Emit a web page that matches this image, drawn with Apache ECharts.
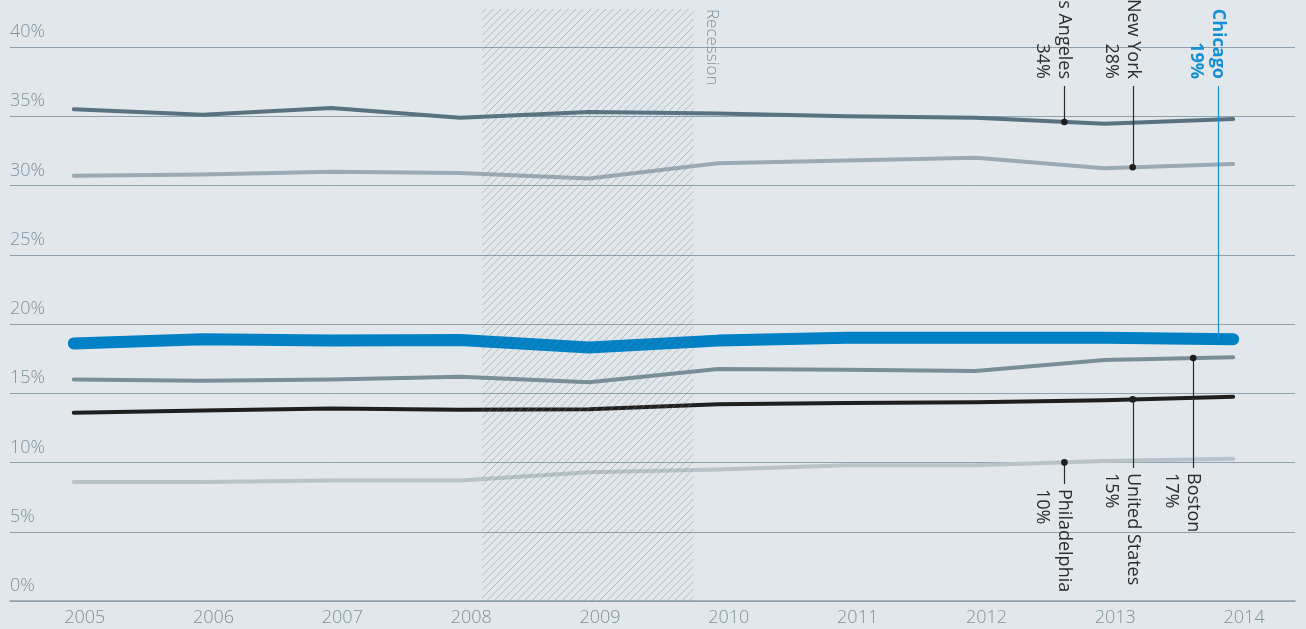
<!DOCTYPE html>
<html><head><meta charset="utf-8">
<script src="https://cdn.jsdelivr.net/npm/echarts@6/dist/echarts.min.js"></script>
<style>html,body{margin:0;padding:0;background:#e2e7eb}#c{width:1306px;height:629px}</style>
</head><body><div id="c"></div><script>
// ---- data ----
const years = [2005, 2006, 2007, 2008, 2009, 2010, 2011, 2012, 2013, 2014];
const yTickValues = [0, 5, 10, 15, 20, 25, 30, 35, 40];
const losAngeles   = [35.5, 35.1, 35.6, 34.9, 35.3, 35.2, 35.0, 34.9, 34.45, 34.8];
const newYork      = [30.7, 30.8, 31.0, 30.9, 30.5, 31.6, 31.8, 32.0, 31.25, 31.55];
const chicago      = [18.6, 18.9, 18.8, 18.85, 18.3, 18.8, 19.0, 19.0, 19.0, 18.9];
const boston       = [16.0, 15.9, 16.0, 16.2, 15.8, 16.75, 16.7, 16.6, 17.4, 17.6];
const unitedStates = [13.6, 13.75, 13.9, 13.8, 13.85, 14.2, 14.3, 14.35, 14.5, 14.75];
const philadelphia = [8.6, 8.6, 8.7, 8.7, 9.3, 9.5, 9.8, 9.8, 10.1, 10.27];
const recessionSpan = [2008.17, 2009.81];
const recessionLabel = 'Recession';
// annotation labels: series, name, value text, year position along line
const topLabels = [
  { series: 'Los Angeles', text: 'Los Angeles\n34%', at: 2012.69, dot: true },
  { series: 'New York', text: 'New York\n28%', at: 2013.22, dot: true },
  { series: 'Chicago', text: 'Chicago\n19%', at: 2013.88, dot: false }
];
const bottomLabels = [
  { series: 'Philadelphia', text: 'Philadelphia\n10%', at: 2012.69 },
  { series: 'United States', text: 'United States\n15%', at: 2013.22 },
  { series: 'Boston', text: 'Boston\n17%', at: 2013.69 }
];

// ---- styles ----
const FONT = "'Open Sans', 'Noto Sans', sans-serif";
const gridColor = '#8ea1ad';
const axisText = '#7b919f';
const seriesDefs = [
  { name: 'Philadelphia', data: philadelphia, color: '#b7c2c9', width: 4 },
  { name: 'United States', data: unitedStates, color: '#1f1f1f', width: 4 },
  { name: 'Boston', data: boston, color: '#7a8e9a', width: 4 },
  { name: 'New York', data: newYork, color: '#99aab4', width: 4 },
  { name: 'Los Angeles', data: losAngeles, color: '#587280', width: 4 },
  { name: 'Chicago', data: chicago, color: '#0080c5', width: 12 }
];
const seriesMap = {};
seriesDefs.forEach(s => seriesMap[s.name] = s.data);

const chart = echarts.init(document.getElementById('c'), null, { renderer: 'canvas' });

const option = {
  backgroundColor: '#e2e7eb',
  animation: false,
  grid: { left: 10, right: 11, top: 47, bottom: 28, containLabel: false },
  xAxis: {
    type: 'value', min: 2004.505, max: 2014.48,
    axisLine: { show: true, lineStyle: { color: gridColor, width: 1.5 } },
    axisTick: { show: false },
    splitLine: { show: false },
    axisLabel: {
      customValues: years.map(y => y + 0.085),
      formatter: v => String(Math.round(v)),
      color: axisText, fontSize: 18, fontFamily: FONT, fontWeight: 300, margin: 8
    }
  },
  yAxis: {
    type: 'value', min: 0, max: 40, interval: 5,
    axisLine: { show: false }, axisTick: { show: false },
    splitLine: { show: true, lineStyle: { color: gridColor, width: 1 } },
    axisLabel: {
      inside: true, margin: 0, verticalAlign: 'bottom', padding: [0, 0, 6, 0],
      formatter: v => v + '%', color: axisText, fontSize: 18, fontFamily: FONT, fontWeight: 300
    }
  },
  series: seriesDefs.map(s => ({
    name: s.name, type: 'line', showSymbol: false, symbol: 'none',
    data: years.map((y, i) => [y, s.data[i]]),
    lineStyle: { color: s.color, width: s.width, cap: 'round', join: 'round' },
    z: s.name === 'Chicago' ? 4 : 3
  }))
};
chart.setOption(option);

// hatch pattern
function makeHatch() {
  const s = 15, c = document.createElement('canvas');
  c.width = s; c.height = s;
  const g = c.getContext('2d');
  g.strokeStyle = 'rgba(110,132,146,0.5)';
  g.lineWidth = 0.9;
  [0, 7.5, 15, 22.5, 30].forEach(k => {
    g.beginPath(); g.moveTo(k + 2, -2); g.lineTo(k - s - 2, s + 2); g.stroke();
  });
  return c;
}

function valueAt(arr, x) {
  const i = Math.min(Math.floor(x - years[0]), years.length - 2);
  const t = x - years[i];
  return arr[i] + (arr[i + 1] - arr[i]) * t;
}

const px = (x, y) => chart.convertToPixel({ gridIndex: 0 }, [x, y]);
const graphics = [];
const r0 = px(recessionSpan[0], 0), r1 = px(recessionSpan[1], 0);
const topY = 9;
graphics.push({
  type: 'rect', z: 20, silent: true,
  shape: { x: r0[0], y: topY, width: r1[0] - r0[0], height: r0[1] - topY },
  style: { fill: { image: makeHatch(), repeat: 'repeat' } }
});
graphics.push({
  type: 'text', z: 21, x: r1[0] + 27, y: 9, rotation: -Math.PI / 2,
  style: { text: recessionLabel, font: `300 17px ${FONT}`, fill: axisText, align: 'left', verticalAlign: 'top' }
});

const LH = 22;
const annFont = `18px ${FONT}`;
topLabels.forEach(l => {
  const isChi = l.series === 'Chicago';
  const col = isChi ? '#138fd6' : '#2b2b2b';
  const p = px(l.at, valueAt(seriesMap[l.series], l.at));
  const lx = Math.round(p[0]) + 0.5;
  graphics.push({ type: 'line', z: 22, shape: { x1: lx, y1: 86, x2: lx, y2: p[1] }, style: { stroke: col, lineWidth: 1.2 } });
  if (l.dot) graphics.push({ type: 'circle', z: 23, shape: { cx: p[0], cy: p[1], r: 3.3 }, style: { fill: '#1f1f1f' } });
  graphics.push({
    type: 'text', z: 23, x: lx + LH / 2, y: 79, rotation: -Math.PI / 2,
    style: { text: l.text, font: (isChi ? 'bold ' : '') + annFont, fill: col, align: 'right', verticalAlign: 'top', lineHeight: LH }
  });
});
bottomLabels.forEach(l => {
  const p = px(l.at, valueAt(seriesMap[l.series], l.at));
  const lx = Math.round(p[0]) + 0.5;
  const endY = l.series === 'Philadelphia' ? 484 : 468;
  graphics.push({ type: 'line', z: 22, shape: { x1: lx, y1: p[1], x2: lx, y2: endY }, style: { stroke: '#2b2b2b', lineWidth: 1.2 } });
  graphics.push({ type: 'circle', z: 23, shape: { cx: p[0], cy: p[1], r: 3.3 }, style: { fill: '#1f1f1f' } });
  graphics.push({
    type: 'text', z: 23, x: lx + LH / 2, y: endY + 5, rotation: -Math.PI / 2,
    style: { text: l.text, font: annFont, fill: '#2b2b2b', align: 'left', verticalAlign: 'top', lineHeight: LH }
  });
});
chart.setOption({ graphic: { elements: graphics } });
</script></body></html>
